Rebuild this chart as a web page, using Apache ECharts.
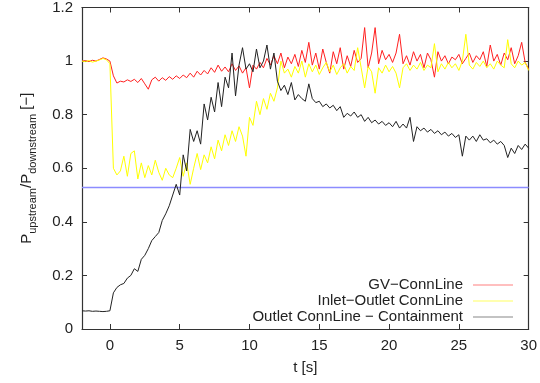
<!DOCTYPE html>
<html>
<head>
<meta charset="utf-8">
<script src="https://cdn.jsdelivr.net/npm/echarts@6/dist/echarts.min.js"></script>
<style>html,body{margin:0;padding:0;background:#fff;}#c{width:540px;height:383px;}</style>
</head>
<body>
<div id="c"></div>
<script>
const times = [
 -2,-1.75,-1.5,-1.25,-1,-0.75,-0.5,-0.25,
 0,0.25,0.5,0.75,1,1.25,1.5,1.75,
 2,2.25,2.5,2.75,3,3.25,3.5,3.75,
 4,4.25,4.5,4.75,5,5.25,5.5,5.75,
 6,6.25,6.5,6.75,7,7.25,7.5,7.75,
 8,8.25,8.5,8.75,9,9.25,9.5,9.75,
 10,10.25,10.5,10.75,11,11.25,11.5,11.75,
 12,12.25,12.5,12.75,13,13.25,13.5,13.75,
 14,14.25,14.5,14.75,15,15.25,15.5,15.75,
 16,16.25,16.5,16.75,17,17.25,17.5,17.75,
 18,18.25,18.5,18.75,19,19.25,19.5,19.75,
 20,20.25,20.5,20.75,21,21.25,21.5,21.75,
 22,22.25,22.5,22.75,23,23.25,23.5,23.75,
 24,24.25,24.5,24.75,25,25.25,25.5,25.75,
 26,26.25,26.5,26.75,27,27.25,27.5,27.75,
 28,28.25,28.5,28.75,29,29.25,29.5,29.75,
 30
];
const gvConnLine = [
 1.0,1.002,0.998,1.003,1.0,1.006,1.012,1.008,
 1.0,0.945,0.918,0.925,0.922,0.93,0.924,0.932,
 0.92,0.935,0.915,0.895,0.93,0.94,0.925,0.938,
 0.928,0.942,0.932,0.945,0.935,0.948,0.938,0.955,
 0.94,0.962,0.948,0.965,0.952,0.975,0.958,0.985,
 0.962,0.978,0.96,0.99,0.965,0.982,0.955,0.975,
 0.9,0.985,0.97,0.995,0.975,1.01,0.985,1.02,
 0.99,1.03,0.975,1.015,0.99,1.025,0.98,1.04,
 0.995,1.07,0.985,1.03,0.97,1.045,0.995,0.955,
 1.035,0.99,1.05,0.97,1.02,0.98,1.04,0.995,
 1.01,1.125,0.975,1.03,1.125,0.99,1.04,1.005,
 1.025,0.995,1.03,1.1,0.99,1.02,0.985,1.035,
 1.0,1.025,0.975,1.03,1.005,0.94,1.035,1.0,
 1.02,0.99,1.015,1.005,1.025,0.99,1.01,1.03,
 0.995,1.02,1.005,1.035,0.98,1.06,1.0,1.025,
 0.985,1.03,1.005,1.05,0.99,1.02,1.07,0.995,
 0.97
];
const inletOutletConnLine = [
 1.0,0.998,1.002,0.996,1.0,1.004,1.01,1.005,
 0.99,0.6,0.575,0.59,0.645,0.57,0.655,0.665,
 0.56,0.62,0.565,0.61,0.575,0.63,0.585,0.555,
 0.6,0.575,0.565,0.6,0.64,0.57,0.62,0.54,
 0.6,0.655,0.595,0.65,0.62,0.68,0.635,0.705,
 0.665,0.725,0.685,0.74,0.7,0.755,0.72,0.645,
 0.79,0.76,0.85,0.8,0.86,0.82,0.88,0.85,
 0.9,1.0,0.955,0.97,0.94,0.98,0.955,1.0,
 0.94,0.99,0.96,0.985,0.95,0.975,0.995,0.96,
 0.985,0.95,0.975,0.99,0.955,0.98,0.965,1.05,
 0.975,0.9,0.98,0.96,0.88,0.975,0.955,0.985,
 0.96,0.98,0.955,0.9,0.975,0.99,0.965,0.985,
 0.97,0.995,0.965,0.985,0.975,1.065,0.96,0.99,
 0.97,0.995,0.975,0.99,0.965,1.0,1.1,0.985,
 0.97,0.995,0.98,1.0,0.975,0.99,0.97,1.0,
 0.985,0.975,1.08,0.99,0.975,1.0,0.985,0.995,
 0.965
];
const outletContainment = [
 0.068,0.067,0.068,0.066,0.067,0.066,0.065,0.066,
 0.068,0.135,0.155,0.165,0.17,0.19,0.2,0.225,
 0.215,0.26,0.275,0.3,0.33,0.345,0.36,0.405,
 0.43,0.46,0.5,0.54,0.5,0.65,0.59,0.745,
 0.7,0.74,0.69,0.84,0.78,0.865,0.81,0.92,
 0.83,0.94,0.9,1.03,0.87,0.985,1.05,0.97,
 0.99,0.96,1.045,0.975,1.0,1.06,0.97,1.03,
 0.925,0.89,0.91,0.875,0.92,0.855,0.875,0.86,
 0.85,0.915,0.86,0.845,0.85,0.83,0.84,0.825,
 0.835,0.815,0.83,0.79,0.805,0.795,0.81,0.79,
 0.8,0.775,0.79,0.77,0.78,0.765,0.775,0.76,
 0.77,0.755,0.775,0.75,0.765,0.75,0.79,0.7,
 0.755,0.74,0.75,0.735,0.745,0.73,0.74,0.725,
 0.735,0.72,0.73,0.715,0.725,0.645,0.72,0.705,
 0.72,0.7,0.725,0.705,0.71,0.695,0.705,0.69,
 0.7,0.685,0.64,0.675,0.655,0.685,0.67,0.69,
 0.675
];
const criticalRatio = 0.528;
const seriesNames = ['GV\u2212ConnLine', 'Inlet\u2212Outlet ConnLine', 'Outlet ConnLine \u2212 Containment'];
const xTicks = [0, 5, 10, 15, 20, 25, 30];
const xMin = -2, xMax = 30;

const FONT = 'Liberation Sans, Arial, sans-serif';
const axisCol = '#333';
const blue = '#8c8cff';
const pair = arr => times.map((t, i) => [t, arr[i]]);

const chart = echarts.init(document.getElementById('c'), null, {renderer: 'canvas'});
const xCommon = {
  type: 'value', min: xMin, max: xMax,
  axisLine: {show: true, onZero: false, lineStyle: {color: axisCol, width: 1.2}},
  axisTick: {show: true, inside: true, length: 5, customValues: xTicks, lineStyle: {color: axisCol}},
  splitLine: {show: false}
};
const yCommon = {
  type: 'value', min: 0, max: 1.2, interval: 0.2,
  axisLine: {show: true, onZero: false, lineStyle: {color: axisCol, width: 1.2}},
  axisTick: {show: true, inside: true, length: 5, lineStyle: {color: axisCol}},
  splitLine: {show: false}
};
chart.setOption({
  animation: false,
  backgroundColor: '#fff',
  textStyle: {fontFamily: FONT},
  grid: {left: 82, right: 8, top: 6, bottom: 54, containLabel: false},
  xAxis: [
    Object.assign({}, xCommon, {
      position: 'bottom',
      axisLabel: {show: true, customValues: xTicks, color: '#222', fontSize: 15, margin: 9, fontFamily: FONT},
      name: 't [s]', nameLocation: 'middle', nameGap: 31,
      nameTextStyle: {color: '#222', fontSize: 15, fontFamily: FONT}
    }),
    Object.assign({}, xCommon, {position: 'top', axisLabel: {show: false}})
  ],
  yAxis: [
    Object.assign({}, yCommon, {
      position: 'left',
      axisLabel: {show: true, color: '#222', fontSize: 15, margin: 9, fontFamily: FONT},
      name: '{m|P}{s|upstream}{m|/P}{s|downstream}{m| [\u2212]}',
      nameLocation: 'middle', nameGap: 44, nameRotate: 90,
      nameTextStyle: {
        color: '#222', fontFamily: FONT,
        rich: {
          m: {fontSize: 15, lineHeight: 22, color: '#222', fontFamily: FONT, verticalAlign: 'middle'},
          s: {fontSize: 11, lineHeight: 11, color: '#222', fontFamily: FONT, verticalAlign: 'bottom'}
        }
      }
    }),
    Object.assign({}, yCommon, {position: 'right', axisLabel: {show: false}})
  ],
  legend: {
    show: true, orient: 'vertical', right: 22, bottom: 53,
    align: 'right', itemWidth: 40, itemHeight: 1, itemGap: 0, icon: 'rect',
    textStyle: {fontSize: 15, lineHeight: 16, height: 16, color: '#222', fontFamily: FONT, padding: [0, 5, 0, 0]},
    data: seriesNames
  },
  series: [
    {name: 'critical', type: 'line', data: [[xMin, criticalRatio], [xMax, criticalRatio]],
     showSymbol: false, symbol: 'none', silent: true, z: 1,
     lineStyle: {color: blue, width: 1.6}, itemStyle: {color: blue}},
    {name: seriesNames[0], type: 'line', data: pair(gvConnLine), showSymbol: false, symbol: 'none',
     lineStyle: {color: '#ff2020', width: 1}, itemStyle: {color: '#ff8080'}, z: 2},
    {name: seriesNames[1], type: 'line', data: pair(inletOutletConnLine), showSymbol: false, symbol: 'none',
     lineStyle: {color: '#ffff00', width: 1}, itemStyle: {color: '#ffff60'}, z: 3},
    {name: seriesNames[2], type: 'line', data: pair(outletContainment), showSymbol: false, symbol: 'none',
     lineStyle: {color: '#222222', width: 1}, itemStyle: {color: '#888888'}, z: 4}
  ]
});
</script>
</body>
</html>
